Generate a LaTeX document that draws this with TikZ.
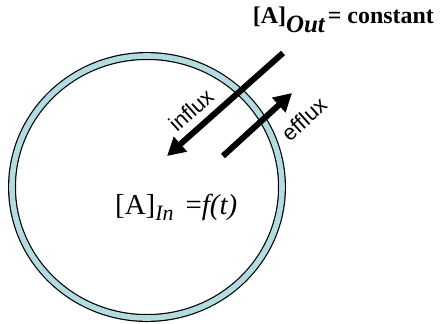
\documentclass[tikz,border=0pt]{standalone}
\usepackage{fontspec}
\setmainfont{Liberation Serif}
\setsansfont{Liberation Sans}
\usetikzlibrary{arrows.meta,positioning}
\definecolor{membrane}{HTML}{B3DCE0}

\begin{document}
\begin{tikzpicture}[x=1bp, y=-1bp,
      flux/.style={line width=6bp, -{Triangle[length=18bp, width=19bp]}},
      fluxlbl/.style={font=\sffamily\fontsize{22}{22}\selectfont, rotate=42, inner sep=0pt},
      conc/.style={font=\fontsize{29}{29}\selectfont, inner sep=0pt}]
    \useasboundingbox (0,0) rectangle (443,323);
    % cell membrane
    \draw[line width=8bp, black] (147,187) ellipse [x radius=135, y radius=131];
    \draw[line width=5.6bp, membrane] (147,187) ellipse [x radius=135, y radius=131];
    \node[conc, anchor=base west] (inside) at (115,214)
      {[A]\raisebox{-6bp}{\fontsize{22}{22}\selectfont\itshape In}\hspace{12bp}=\textit{f(t)}};
    \node[anchor=base east, inner sep=0pt, font=\bfseries\fontsize{24}{24}\selectfont] (outside) at (434,23)
      {[A]\raisebox{-9bp}{\fontsize{25}{25}\selectfont\itshape Out}\hspace{3bp}= constant};
    % fluxes
    \coordinate (inTail) at (283,53);
    \coordinate (inTip) at (167,156);
    \coordinate (outTail) at (223,156);
    \coordinate (outTip) at (292,93);
    \draw[flux] (inTail) -- (inTip);
    \draw[flux] (outTail) -- (outTip);
    \node[fluxlbl] (influx) at (191,110) {influx};
    \node[fluxlbl] (efflux) at (304,119) {efflux};
\end{tikzpicture}
\end{document}
